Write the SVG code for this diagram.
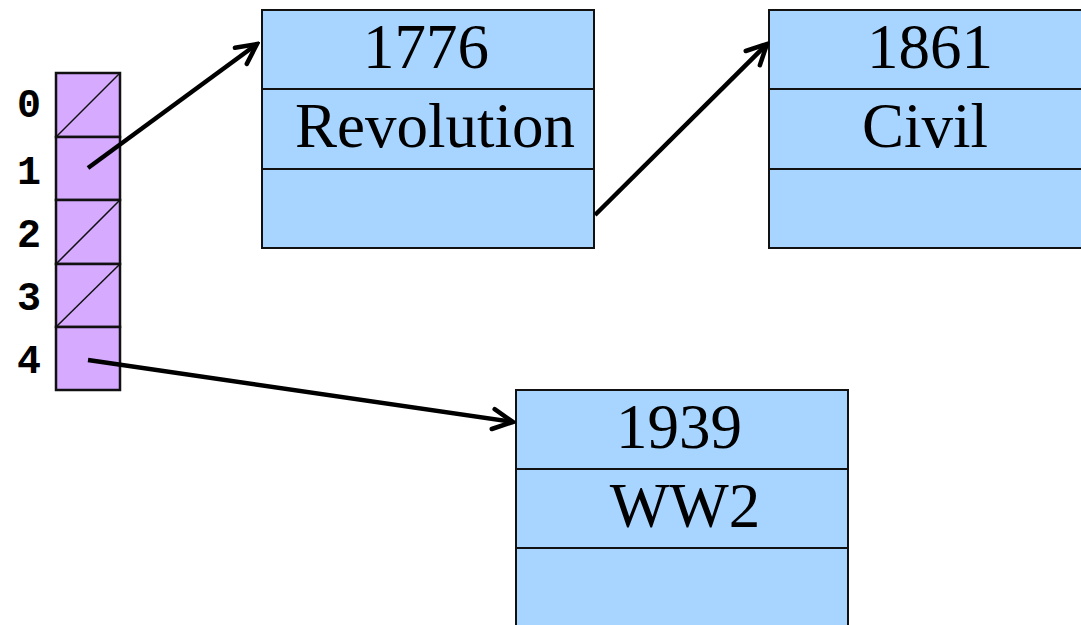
<svg xmlns="http://www.w3.org/2000/svg" width="1081" height="625" viewBox="0 0 1081 625">
<style>
.cell{fill:#D5AAFF;stroke:#111;stroke-width:2.5}
.slash{stroke:#111;stroke-width:1.5}
.idx{font-family:"Liberation Mono","DejaVu Sans Mono",monospace;font-weight:bold;font-size:40px;text-anchor:middle;fill:#000}
.box{fill:#A8D5FF;stroke:#111;stroke-width:2}
.t{font-family:"Liberation Serif","Times New Roman",serif;font-size:63px;text-anchor:middle;fill:#000}
.conn{stroke:#000;stroke-width:4.5;fill:none}
</style>
<defs>
<marker id="ah" viewBox="0 0 26 26" refX="23" refY="13" markerWidth="26" markerHeight="26" markerUnits="userSpaceOnUse" orient="auto">
<path d="M3,3 L23,13 L3,23" fill="none" stroke="#000" stroke-width="4.5" stroke-linecap="round" stroke-linejoin="miter"/>
</marker>
</defs>
<rect width="1081" height="625" fill="#fff"/>
<g id="array">
<rect class="cell" x="56" y="73" width="64" height="64"/>
<rect class="cell" x="56" y="137" width="64" height="63"/>
<rect class="cell" x="56" y="200" width="64" height="64"/>
<rect class="cell" x="56" y="264" width="64" height="63"/>
<rect class="cell" x="56" y="327" width="64" height="63"/>
<line class="slash" x1="56" y1="137" x2="120" y2="73"/>
<line class="slash" x1="56" y1="264" x2="120" y2="200"/>
<line class="slash" x1="56" y1="327" x2="120" y2="264"/>
<text class="idx" x="29" y="117">0</text>
<text class="idx" x="29" y="184">1</text>
<text class="idx" x="29" y="247">2</text>
<text class="idx" x="29" y="310">3</text>
<text class="idx" x="29" y="373">4</text>
</g>
<g id="node1776">
<rect class="box" x="262" y="10" width="332" height="79"/>
<rect class="box" x="262" y="89" width="332" height="80"/>
<rect class="box" x="262" y="169" width="332" height="79"/>
<text class="t" x="426" y="68">1776</text>
<text class="t" x="435" y="147">Revolution</text>
</g>
<g id="node1861">
<rect class="box" x="769" y="10" width="332" height="79"/>
<rect class="box" x="769" y="89" width="332" height="80"/>
<rect class="box" x="769" y="169" width="332" height="79"/>
<text class="t" x="930" y="68">1861</text>
<text class="t" x="925" y="147">Civil</text>
</g>
<g id="node1939">
<rect class="box" x="516" y="390" width="332" height="79"/>
<rect class="box" x="516" y="469" width="332" height="79"/>
<rect class="box" x="516" y="548" width="332" height="80"/>
<text class="t" x="679" y="448">1939</text>
<text class="t" x="685" y="527">WW2</text>
</g>
<g id="connectors">
<line class="conn" x1="88" y1="168" x2="257" y2="44" marker-end="url(#ah)"/>
<line class="conn" x1="595" y1="215" x2="767" y2="44" marker-end="url(#ah)"/>
<line class="conn" x1="88" y1="360" x2="513" y2="422" marker-end="url(#ah)"/>
</g>
</svg>
